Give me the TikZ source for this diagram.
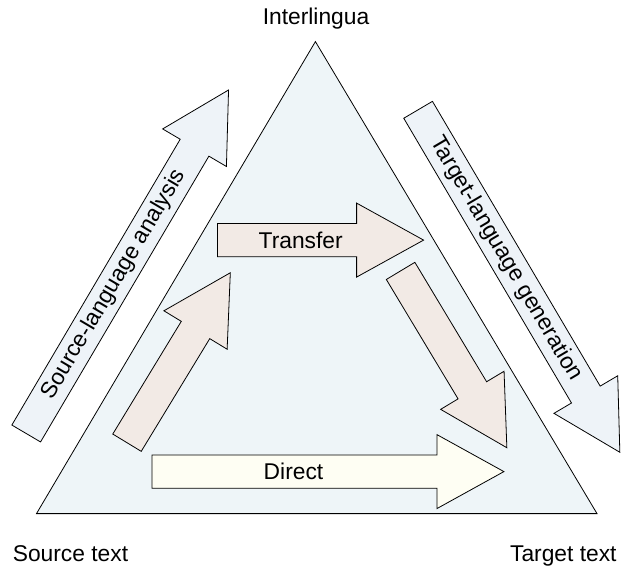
\documentclass[tikz,border=0pt]{standalone}
\usepackage{fontspec}
\setmainfont{Liberation Sans}
\definecolor{trifill}{HTML}{EEF5F8}
\definecolor{bluefill}{HTML}{EEF3F8}
\definecolor{brownfill}{HTML}{F2EAE5}
\definecolor{creamfill}{HTML}{FEFEF3}
\tikzset{
  shapeline/.style={draw=black, line width=0.8pt, line join=miter},
  lbl/.style={font=\fontsize{22.8}{26}\selectfont, inner sep=0pt},
}
% #1 name, #2 tail point, #3 angle, #4 length, #5 fill, #6 text position along, #7 text
\newcommand{\mtarrow}[7]{%
  \begin{scope}[shift={#2}, rotate=#3]
    \path[shapeline, fill=#5] (0,-16.65) -- ({#4-67},-16.65) -- ({#4-67},-37) -- (#4,0)
      -- ({#4-67},37) -- ({#4-67},16.65) -- (0,16.65) -- cycle;
    \node[lbl, rotate=#3, anchor=center] (#1) at (#6,0) {#7};
  \end{scope}}
\begin{document}
\begin{tikzpicture}[x=1pt, y=-1pt]
\useasboundingbox (0,0) rectangle (622,567);
% triangle
\coordinate (apex) at (315.4,41.6);
\coordinate (bl) at (36.5,513.6);
\coordinate (br) at (597,513.6);
\path[shapeline, fill=trifill] (apex) -- (br) -- (bl) -- cycle;
% corner labels
\node[lbl, anchor=base] (inter) at (316,24.3) {Interlingua};
\node[lbl, anchor=base] (src) at (70.5,561.5) {Source text};
\node[lbl, anchor=base] (tgt) at (563.3,561.5) {Target text};
% outer arrows
\mtarrow{sla}{(26.2,433.5)}{59.5}{398.7}{bluefill}{173}{Source-language analysis}
\mtarrow{tlg}{(418.1,109.8)}{-59.5}{397.5}{bluefill}{173}{Target-language generation}
% inner arrows
\mtarrow{up}{(127,442.7)}{58.7}{198.9}{brownfill}{0}{}
\mtarrow{transfer}{(217.4,240.1)}{0}{206.2}{brownfill}{83.3}{Transfer}
\mtarrow{down}{(400.6,270.9)}{-59}{206.3}{brownfill}{0}{}
\mtarrow{direct}{(151.9,471.6)}{0}{352}{creamfill}{141.6}{Direct}
\end{tikzpicture}
\end{document}
